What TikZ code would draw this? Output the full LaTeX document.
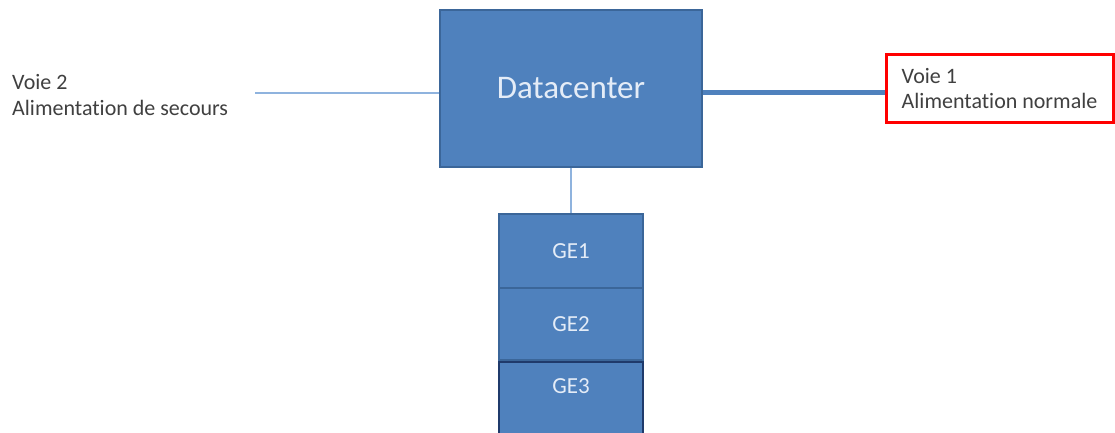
\documentclass[tikz,border=0pt]{standalone}
\usepackage{fontspec}
\setmainfont{Carlito}[Ligatures=NoCommon]
\definecolor{boxblue}{HTML}{4F81BD}
\definecolor{boxedge}{HTML}{3B6699}
\definecolor{darkedge}{HTML}{1F3A6B}
\definecolor{lightline}{HTML}{8FB3DE}
\definecolor{labelgray}{HTML}{404040}
\definecolor{boxtext}{HTML}{E4ECF7}
\tikzset{
  bluebox/.style={draw=boxedge, line width=1.2pt, fill=boxblue, text=boxtext, inner sep=0pt},
  thinlink/.style={draw=lightline, line width=1.6pt},
  thicklink/.style={draw=boxblue, line width=5pt},
  redbox/.style={draw=red, line width=3pt, fill=white, text=labelgray, inner sep=0pt, align=left},
  sidelabel/.style={text=labelgray, inner sep=0pt, align=left, font=\fontsize{22}{25.5}\selectfont}
}
\begin{document}
\begin{tikzpicture}[x=1pt,y=-1pt]
\useasboundingbox (0,0) rectangle (1115,433);
\clip (0,0) rectangle (1115,433);
\fill[white] (0,0) rectangle (1115,433);
% main box
\node[bluebox, minimum width=262pt, minimum height=157pt, font=\fontsize{33}{38}\selectfont] (dc) at (571,88.5) {Datacenter};
% generator stack
\node[bluebox, minimum width=144pt, minimum height=74pt, font=\fontsize{23}{27}\selectfont] (ge1) at (571,251) {GE1};
\node[bluebox, minimum width=144pt, minimum height=72pt, font=\fontsize{23}{27}\selectfont] (ge2) at (571,324) {GE2};
\node[bluebox, draw=darkedge, minimum width=144pt, minimum height=100pt, font=\fontsize{23}{27}\selectfont] (ge3) at (571,412) {\raisebox{26pt}[\height][\depth]{GE3}};
% labels
\node[sidelabel, anchor=west] (v2) at (12,95) {Voie 2\\Alimentation de secours};
\node[redbox, minimum width=227pt, minimum height=67pt, font=\fontsize{22}{25.5}\selectfont] (v1) at (999.5,88.5) {Voie 1\\Alimentation normale};
% connectors
\coordinate (lstart) at (255,93);
\coordinate (rline) at (800,93);
\draw[thinlink] (lstart) -- (lstart -| dc.west);
\draw[thinlink] (dc.south) -- (ge1.north);
\draw[thicklink] (dc.east |- rline) -- (v1.west |- rline);
\end{tikzpicture}
\end{document}
